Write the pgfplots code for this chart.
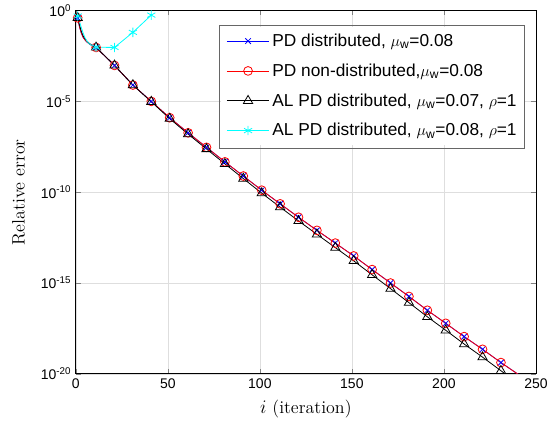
\documentclass[border=0pt]{standalone}
\usepackage{fontspec}
\setsansfont{Liberation Sans}
\usepackage{pgfplots}
\pgfplotsset{compat=1.18}
\definecolor{mblue}{RGB}{0,0,255}
\definecolor{mred}{RGB}{255,0,0}
\definecolor{mcyan}{RGB}{0,255,255}
\definecolor{mblack}{RGB}{0,0,0}
\begin{document}
\begin{tikzpicture}
\begin{axis}[
  name=ax,
  scale only axis, width=345.75pt, height=273pt,
  xmin=0, xmax=250, ymode=log, ymin=1e-20, ymax=1,
  xtick={0,50,100,150,200,250},
  xticklabels={0,50,100,150,200,250},
  ytick={1e-20,1e-15,1e-10,1e-5,1},
  yticklabels={10\textsuperscript{-20},10\textsuperscript{-15},10\textsuperscript{-10},10\textsuperscript{-5},10\textsuperscript{0}},
  minor ytick={}, minor xtick={},
  tick align=inside, major tick length=3.5pt,
  ticklabel style={font=\sffamily\fontsize{10.5}{12}\selectfont},
  xmajorgrids, ymajorgrids,
  major grid style={black!13, line width=0.5pt},
  axis line style={line width=0.6pt},
  xlabel={\rmfamily\fontsize{13.5}{15}\selectfont $i$ (iteration)},
  ylabel={\rmfamily\fontsize{13.5}{15}\selectfont Relative error},
  xlabel style={yshift=-2pt},
  ylabel style={yshift=5pt},
  legend cell align=left,
  legend style={at={(0.976,0.955)}, anchor=north east, draw=none, fill=white,
    font=\sffamily\fontsize{13}{15}\selectfont, row sep=7.5pt, inner xsep=4pt, inner ysep=3pt},
  legend image code/.code={\draw[#1, mark indices={2}] plot coordinates {(0pt,0pt) (16pt,0pt) (32pt,0pt)};},
]
% PD distributed (blue)
\addplot[mblue, line width=0.6pt, mark=x, mark size=3pt, mark options={solid},
  mark indices={1,11,12,13,14,15,16,17,18,19,20,21,22,23,24,25,26,27,28,29,30,31,32,33}] coordinates {
(1,3.98e-1) (2,1.26e-1) (3,5.62e-2) (4,3.31e-2) (5,2.40e-2) (6,1.86e-2) (7,1.55e-2) (8,1.32e-2) (9,1.15e-2) (10,1.02e-2) (11,9.33e-3)
(21,9.55e-4) (31,7.94e-5) (41,1e-5) (51,1.26e-6) (61,1.86e-7) (71,2.95e-8) (81,4.68e-9) (91,7.76e-10) (101,1.29e-10)
(111,2.29e-11) (121,4.17e-12) (131,7.94e-13) (141,1.58e-13) (151,3.09e-14) (161,5.50e-15) (171,1e-15) (181,1.82e-16)
(191,3.16e-17) (201,6.03e-18) (211,1.12e-18) (221,2.24e-19) (231,4.17e-20) (241,8.51e-21)};
\addlegendentry{PD distributed, $\mu$\textsubscript{w}=0.08}

% PD non-distributed (red)
\addplot[mred, line width=0.6pt, mark=o, mark size=3.3pt, mark options={solid},
  mark indices={1,11,12,13,14,15,16,17,18,19,20,21,22,23,24,25,26,27,28,29,30,31,32,33}] coordinates {
(1,3.98e-1) (2,1.26e-1) (3,5.62e-2) (4,3.31e-2) (5,2.40e-2) (6,1.86e-2) (7,1.55e-2) (8,1.32e-2) (9,1.15e-2) (10,1.02e-2) (11,9.33e-3)
(21,9.55e-4) (31,7.94e-5) (41,1e-5) (51,1.26e-6) (61,1.86e-7) (71,2.95e-8) (81,4.68e-9) (91,7.76e-10) (101,1.29e-10)
(111,2.29e-11) (121,4.17e-12) (131,7.94e-13) (141,1.58e-13) (151,3.09e-14) (161,5.50e-15) (171,1e-15) (181,1.82e-16)
(191,3.16e-17) (201,6.03e-18) (211,1.12e-18) (221,2.24e-19) (231,4.17e-20) (241,8.51e-21)};
\addlegendentry{PD non-distributed,$\mu$\textsubscript{w}=0.08}

% AL PD distributed mu=0.07 (black)
\addplot[mblack, line width=0.6pt, mark=triangle, mark size=4pt, mark options={solid},
  mark indices={1,11,12,13,14,15,16,17,18,19,20,21,22,23,24,25,26,27,28,29,30,31,32,33}] coordinates {
(1,3.98e-1) (2,1.58e-1) (3,7.08e-2) (4,3.98e-2) (5,2.75e-2) (6,2.09e-2) (7,1.66e-2) (8,1.38e-2) (9,1.17e-2) (10,1.02e-2) (11,9.33e-3)
(21,9.55e-4) (31,7.94e-5) (41,9.55e-6) (51,1.12e-6) (61,1.58e-7) (71,2.40e-8) (81,3.63e-9) (91,5.62e-10) (101,8.91e-11)
(111,1.51e-11) (121,2.63e-12) (131,4.79e-13) (141,8.91e-14) (151,1.66e-14) (161,2.82e-15) (171,4.90e-16) (181,8.32e-17)
(191,1.38e-17) (201,2.51e-18) (211,4.37e-19) (221,8.32e-20) (231,1.48e-20) (241,2.51e-21)};
\addlegendentry{AL PD distributed, $\mu$\textsubscript{w}=0.07, $\rho$=1}

% AL PD distributed mu=0.08 (cyan)
\addplot[mcyan, line width=0.6pt, mark=asterisk, mark size=3.5pt, mark options={solid},
  mark indices={1,11,12,13,14}] coordinates {
(1,5.01e-1) (2,2.51e-1) (3,1.12e-1) (4,5.62e-2) (5,3.16e-2) (6,2.09e-2) (7,1.58e-2) (8,1.32e-2) (9,1.17e-2) (10,1.07e-2) (11,9.55e-3)
(21,9.33e-3) (31,6.31e-2) (41,5.62e-1)};
\addlegendentry{AL PD distributed, $\mu$\textsubscript{w}=0.08, $\rho$=1}
\end{axis}
\draw[black!60, line width=0.5pt] ([shift={(107.9pt,169.5pt)}]ax.south west) rectangle ([shift={(337.4pt,261.8pt)}]ax.south west);
\path ([shift={(-57pt,-42.75pt)}]ax.south west) ([shift={(11.25pt,7.5pt)}]ax.north east);
\end{tikzpicture}
\end{document}
